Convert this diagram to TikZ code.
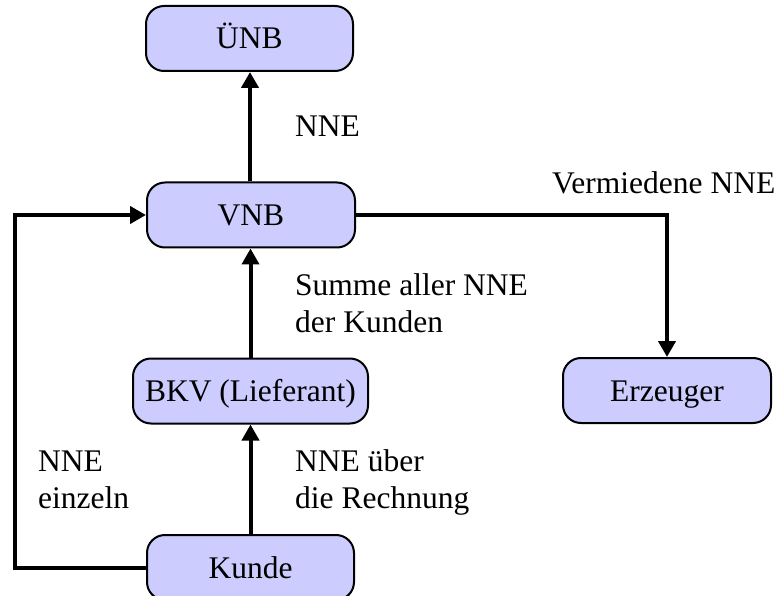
\documentclass[tikz,border=0pt]{standalone}
\usepackage{fontspec}
\setmainfont{Liberation Serif}
\usetikzlibrary{arrows.meta}
\definecolor{boxfill}{RGB}{204,204,255}
\tikzset{
  entity/.style={draw=black, line width=2pt, fill=boxfill, rounded corners=18pt,
    inner sep=0pt, minimum height=65pt, text height=22pt, text depth=1pt,
    font=\fontsize{31.5}{37}\selectfont},
  lbl/.style={anchor=base west, align=left, inner sep=0pt,
    font=\fontsize{31.5}{37}\selectfont},
  flow/.style={line width=4pt, -{Triangle[width=17pt,length=16pt]}}
}
\begin{document}
\begin{tikzpicture}[x=1pt,y=-1pt]
\useasboundingbox[fill=white] (0,0) rectangle (782,596);
\node[entity, minimum width=207pt] (UNB) at (249.5,38.5) {ÜNB};
\node[entity, minimum width=208pt] (VNB) at (251,215) {VNB};
\node[entity, minimum width=235pt] (BKV) at (250.5,391) {BKV (Lieferant)};
\node[entity, minimum width=207pt] (Kunde) at (250.5,567.5) {Kunde};
\node[entity, minimum width=208pt] (Erz) at (667,390.5) {Erzeuger};
\coordinate (L) at (15,567.5);
\draw[flow] (VNB.north -| 250,0) -- (UNB.south -| 250,0);
\draw[flow] (BKV.north -| 250.5,0) -- (VNB.south -| 250.5,0);
\draw[flow] (Kunde.north -| 250.5,0) -- (BKV.south -| 250.5,0);
\draw[flow] (Kunde.west) -- (L) |- (VNB.west);
\draw[flow] (VNB.east) -| (Erz.north);
\node[lbl] (l1) at (295,137) {NNE};
\node[lbl] (l2) at (552,194) {Vermiedene NNE};
\node[lbl] (l3) at (295,332) {Summe aller NNE\\der Kunden};
\node[lbl] (l4) at (295,508) {NNE über\\die Rechnung};
\node[lbl] (l5) at (38,508) {NNE\\einzeln};
\end{tikzpicture}
\end{document}
